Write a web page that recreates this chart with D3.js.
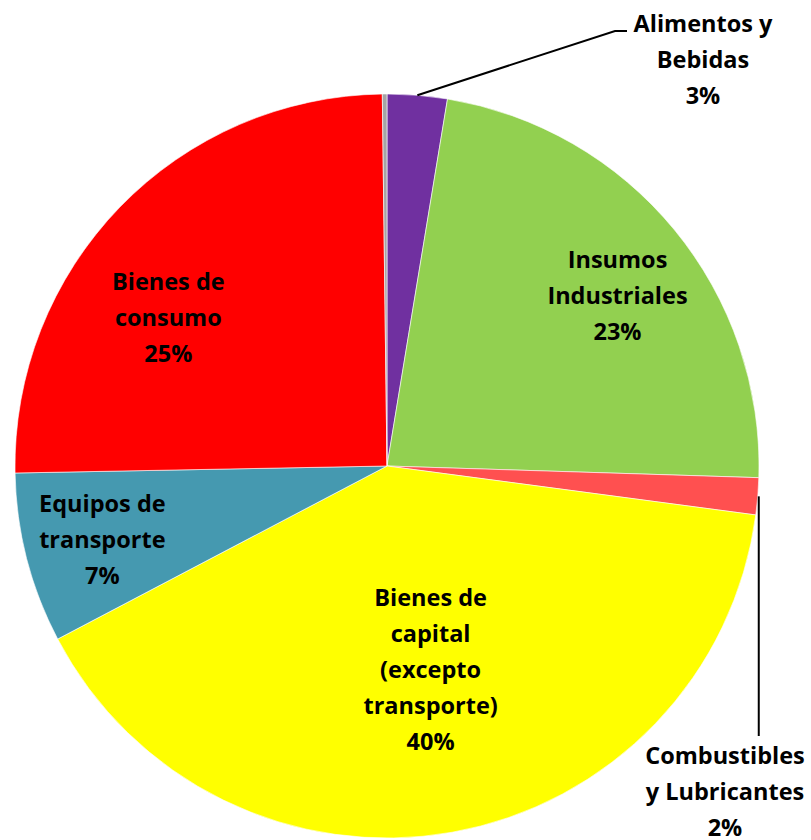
<!DOCTYPE html>
<html>
<head>
<meta charset="utf-8">
<script src="https://cdn.jsdelivr.net/npm/d3@7"></script>
<style>
  html, body { margin: 0; padding: 0; background: #fff; }
  svg { display: block; }
  text { font-family: "Open Sans", Lato, sans-serif; font-weight: 700; fill: #000; }
</style>
</head>
<body>
<svg id="chart" width="811" height="840"></svg>
<script>
// Composition by category, percent of total (clockwise from 12 o'clock)
const categories = [
  "Alimentos y Bebidas",
  "Insumos Industriales",
  "Combustibles y Lubricantes",
  "Bienes de capital (excepto transporte)",
  "Equipos de transporte",
  "Bienes de consumo",
  "Otros"
];
const shares = [2.6, 22.9, 1.6, 40.2, 7.4, 25.1, 0.2];
const labelLines = [
  ["Alimentos y", "Bebidas"],
  ["Insumos", "Industriales"],
  ["Combustibles", "y Lubricantes"],
  ["Bienes de", "capital", "(excepto", "transporte)"],
  ["Equipos de", "transporte"],
  ["Bienes de", "consumo"],
  null
];
const colors = ["#7030A0", "#92D050", "#FF5050", "#FFFF00", "#4599B0", "#FF0000", "#A5A5A5"];

const svg = d3.select("#chart");
const cx = 387, cy = 466, R = 372;
const lineH = 36, fontSize = 23.5;

const pie = d3.pie().sort(null).value(d => d).startAngle(0).endAngle(2 * Math.PI);
const arcs = pie(shares);
const arc = d3.arc().innerRadius(0).outerRadius(R);

const g = svg.append("g").attr("transform", `translate(${cx},${cy})`);

g.selectAll("path.slice")
  .data(arcs)
  .join("path")
  .attr("class", "slice")
  .attr("d", arc)
  .attr("fill", (d, i) => colors[i])
  .attr("stroke", "#fff")
  .attr("stroke-width", 0.6);

// Label placement: inside labels sit along the slice's mid-angle;
// thin slices get an outside label with a leader line.
const placement = [
  { outside: true, anchor: [316, -406], leader: "elbow" },
  { rFrac: 0.77, dAng: 3 },
  { outside: true, anchor: [338, 326], leader: "vertical" },
  { rFrac: 0.56, dAng: -2 },
  { rFrac: 0.79, dAng: 0 },
  { rFrac: 0.71, dAng: -10 },
  null
];

function polar(angleDeg, r) {
  const a = angleDeg * Math.PI / 180;
  return [Math.sin(a) * r, -Math.cos(a) * r];
}

arcs.forEach((d, i) => {
  const p = placement[i];
  if (!p) return;
  const lines = labelLines[i].concat([Math.round(shares[i]) + "%"]);
  let x, y;
  if (p.outside) {
    [x, y] = p.anchor;
  } else {
    const mid = (d.startAngle + d.endAngle) / 2 * 180 / Math.PI + p.dAng;
    [x, y] = polar(mid, R * p.rFrac);
  }
  const t = g.append("text")
    .attr("text-anchor", "middle")
    .attr("font-size", fontSize);
  const n = lines.length;
  lines.forEach((ln, k) => {
    t.append("tspan")
      .attr("x", x)
      .attr("y", y + (k - (n - 1) / 2) * lineH + fontSize * 0.36)
      .text(ln);
  });

  if (p.outside) {
    const mid = (d.startAngle + d.endAngle) / 2;
    const sx = Math.sin(mid) * R;
    const sy = -Math.cos(mid) * R;
    if (p.leader === "elbow") {
      const pts = [[sx, sy], [x - 88, y - 29], [x - 76, y - 29]];
      g.append("path")
        .attr("d", d3.line()(pts))
        .attr("fill", "none")
        .attr("stroke", "#000")
        .attr("stroke-width", 2);
    } else {
      g.append("path")
        .attr("d", d3.line()([[sx + 1, sy], [sx + 1, y - 56]]))
        .attr("fill", "none")
        .attr("stroke", "#000")
        .attr("stroke-width", 2);
    }
  }
});
</script>
</body>
</html>
